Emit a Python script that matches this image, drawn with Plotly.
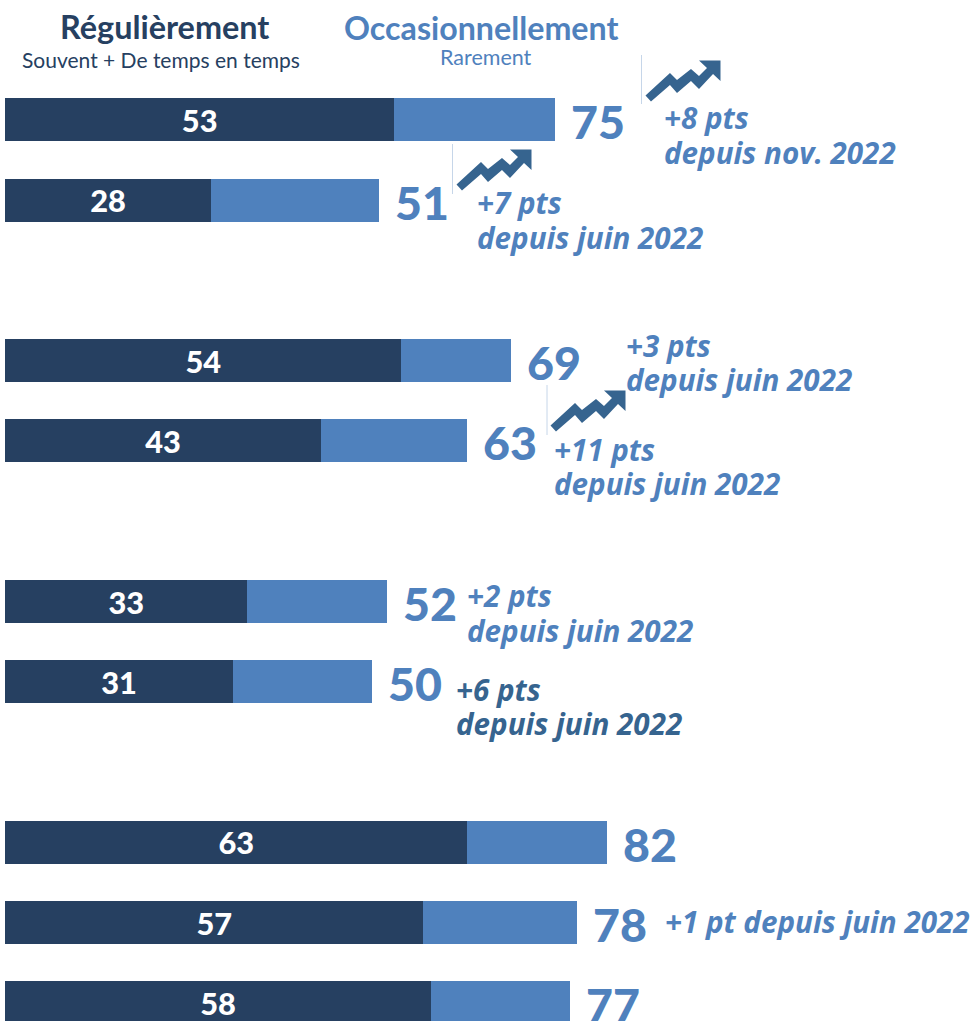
import plotly.graph_objects as go

W, H = 973, 1021
DARK = "#264061"
LIGHT = "#4f81bd"
ARROW = "#36648f"

row_pos = [0, 1, 3, 4, 6, 7, 9, 10, 11]
regulier = [53, 28, 54, 43, 33, 31, 63, 57, 58]
total = [75, 51, 69, 63, 52, 50, 82, 78, 77]
occasionnel = [t - r for t, r in zip(total, regulier)]

PX_PER_UNIT = 7.335
ROW_PX = 80.25
FIRST_ROW_PX = 119.9
LEFT_PX = 5.3
xr = [-LEFT_PX / PX_PER_UNIT, (W - LEFT_PX) / PX_PER_UNIT]
yr = [(H - FIRST_ROW_PX) / ROW_PX, -FIRST_ROW_PX / ROW_PX]

fig = go.Figure()
fig.add_bar(y=row_pos, x=regulier, orientation="h", marker_color=DARK, marker_line_width=0,
            text=[str(v) for v in regulier], textposition="inside", insidetextanchor="middle",
            textangle=0, insidetextfont=dict(family="Lato", size=35, color="white", weight=900),
            name="Régulièrement", hoverinfo="skip", cliponaxis=False)
fig.add_bar(y=row_pos, x=occasionnel, orientation="h", marker_color=LIGHT, marker_line_width=0,
            name="Occasionnellement", hoverinfo="skip")


def px(x):
    return x / W


def py(y):
    return 1 - y / H


def label(x, y, text, size, color, bold=False, italic=False, anchor="left", family="Lato"):
    fig.add_annotation(x=px(x), y=py(y), xref="paper", yref="paper", text=text, showarrow=False,
                       xanchor=anchor, yanchor="middle", align="left" if anchor == "left" else "center",
                       borderpad=0, borderwidth=0,
                       font=dict(family=family, size=size, color=color,
                                 weight="bold" if bold else "normal",
                                 style="italic" if italic else "normal"))


# totals
for p, t in zip(row_pos, total):
    fig.add_annotation(x=t, y=p, xref="x", yref="y", text=str(t), showarrow=False, xanchor="left",
                       yanchor="middle", xshift=15, yshift=-1.5, borderpad=0,
                       font=dict(family="Lato", size=46.5, color=LIGHT, weight=900))

# headers
label(164, 26, "Régulièrement", 32.4, DARK, bold=True, anchor="center")
label(161, 60, "Souvent + De temps en temps", 21, DARK, anchor="center")
label(481, 28, "Occasionnellement", 32.2, LIGHT, bold=True, anchor="center")
label(486, 57, "Rarement", 21.5, LIGHT, anchor="center")

# evolution notes
NOTE = dict(size=29.6, bold=True, italic=True, family="Open Sans")


def note(x, y_first, first, second, color=LIGHT):
    label(x, y_first, first, color=color, **NOTE)
    label(x, y_first + 34.5, second, color=color, **NOTE)


note(664, 117.5, "+8 pts", "depuis nov. 2022")
note(477, 203, "+7 pts", "depuis juin 2022")
note(626, 345, "+3 pts", "depuis juin 2022")
note(554, 449, "+11 pts", "depuis juin 2022")
note(467, 595.5, "+2 pts", "depuis juin 2022")
note(456, 689, "+6 pts", "depuis juin 2022", color=ARROW)
label(665, 921, "+1 pt depuis juin 2022", color=LIGHT, **NOTE)

# arrow pictogram outline, relative to its tail
ARROW_SHAPE = [(-0.5, -0.5), (24, -23), (31, -16), (45, -27), (53, -20), (61, -28), (53, -35.5),
               (74.5, -35.5), (74.5, -15), (67, -22), (53, -7), (45, -15), (31, -3), (24, -11), (5, 5.5)]
for x0, y0 in [(646, 96), (457, 185), (551, 426)]:
    d = "M" + " L".join(f"{px(x0 + a):.5f},{py(y0 + b):.5f}" for a, b in ARROW_SHAPE) + " Z"
    fig.add_shape(type="path", path=d, xref="paper", yref="paper", fillcolor=ARROW, line_width=0, layer="above")

for x0, y0, y1 in [(641.5, 55, 104), (452.5, 144, 194), (547, 385, 435)]:
    fig.add_shape(type="line", x0=px(x0), x1=px(x0), y0=py(y0), y1=py(y1), xref="paper", yref="paper",
                  line=dict(color="#c6d6e9", width=1))

fig.update_layout(barmode="stack", bargap=0.465, width=W, height=H, margin=dict(l=0, r=0, t=0, b=0),
                  paper_bgcolor="white", plot_bgcolor="white", showlegend=False,
                  xaxis=dict(range=xr, visible=False), yaxis=dict(range=yr, visible=False))
fig.write_html("out.html", config={"displayModeBar": False},
               post_script="document.body.style.margin='0';document.body.style.overflow='hidden';")
